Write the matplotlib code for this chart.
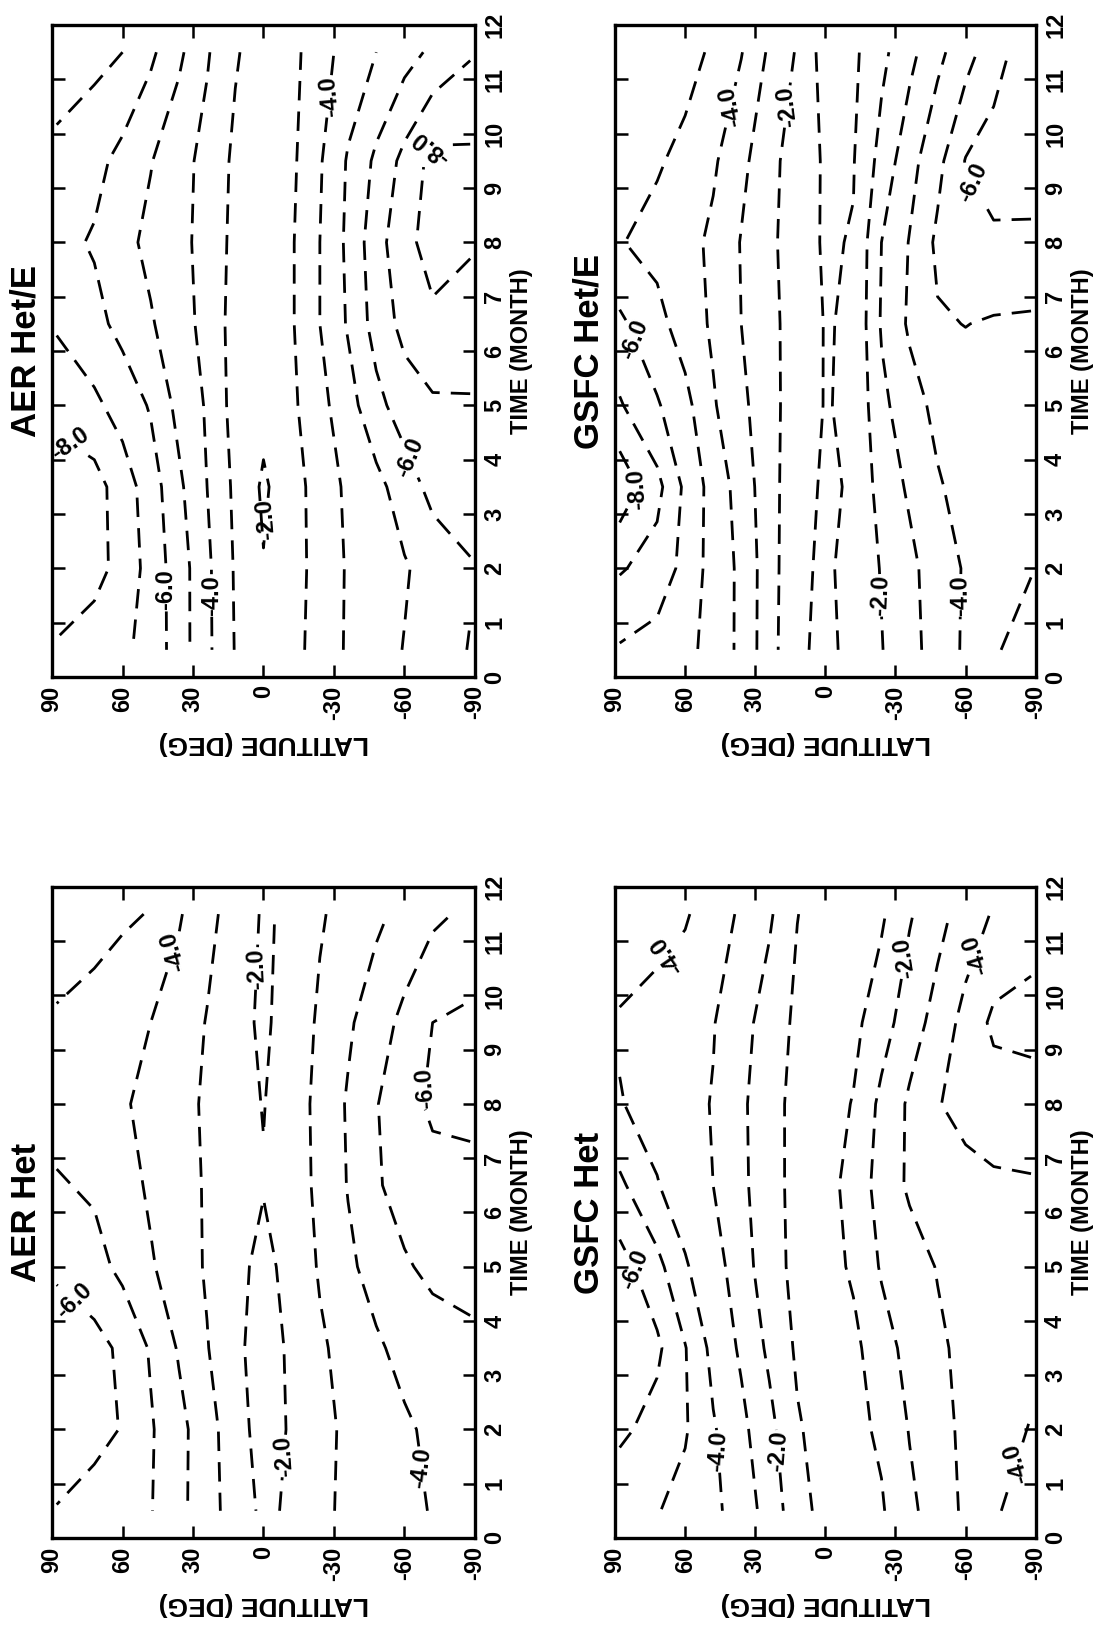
import numpy as np
import matplotlib
matplotlib.use('Agg')
import matplotlib.pyplot as plt

plt.rcParams['font.family'] = ['Liberation Sans', 'DejaVu Sans']
plt.rcParams['axes.unicode_minus'] = False
plt.rcParams['lines.scale_dashes'] = False

# grid of the model fields
lats = [88, 72, 60, 48, 36, 24, 12, 0, -12, -24, -36, -48, -60, -72, -88]
months = [0.5, 2, 3.5, 5, 6.5, 8, 9.5, 11.5]

# ozone change (%), one row per month, values from 88N to 88S
aer_het_e = [
    [-7.9, -7.55, -7.2, -6.64, -5.5, -4.22, -2.95, -2.4, -2.7, -3.35, -4.13, -4.58, -5.04, -5.5, -6.05],
    [-8.6, -8.3, -7.7, -6.6, -5.5, -4.2, -2.9, -2.05, -2.6, -3.35, -4.1, -4.6, -4.9, -5.4, -5.9],
    [-8.7, -8.4, -7.5, -6.5, -5.2, -4.0, -2.8, -1.85, -2.6, -3.4, -4.2, -4.7, -5.5, -6.3, -6.6],
    [-7.6, -7.2, -6.6, -5.9, -4.7, -3.9, -2.6, -2.3, -2.8, -3.7, -4.6, -5.7, -6.5, -6.85, -6.9],
    [-6.9, -6.3, -5.7, -5.1, -4.4, -3.7, -2.6, -2.4, -2.9, -4.0, -5.1, -6.4, -7.3, -7.8, -7.6],
    [-6.3, -5.9, -5.3, -4.75, -4.25, -3.7, -2.7, -2.3, -2.9, -4.0, -5.2, -6.6, -7.7, -8.4, -8.1],
    [-6.7, -6.3, -5.7, -5.05, -4.35, -3.7, -2.8, -2.3, -2.8, -3.9, -5.1, -6.2, -7.3, -8.3, -8.2],
    [-7.6, -7.3, -7.0, -6.2, -5.2, -4.1, -3.1, -2.5, -2.7, -3.6, -4.4, -5.0, -5.6, -6.2, -6.9],
]
aer_het = [
    [-5.95, -5.6, -5.35, -5.05, -4.27, -3.4, -2.55, -1.8, -2.15, -2.78, -3.2, -3.5, -3.78, -4.05, -4.3],
    [-6.6, -6.3, -5.95, -5.1, -4.3, -3.4, -2.4, -1.6, -2.1, -2.7, -3.2, -3.55, -3.85, -4.2, -4.5],
    [-6.7, -6.35, -5.8, -4.9, -3.9, -3.05, -2.2, -1.6, -2.15, -2.85, -3.35, -3.85, -4.3, -4.6, -4.8],
    [-5.8, -5.35, -4.75, -4.1, -3.5, -2.9, -2.25, -1.75, -2.3, -3.1, -3.8, -4.4, -4.9, -5.2, -5.3],
    [-5.1, -4.85, -4.4, -3.85, -3.4, -2.9, -2.35, -2.05, -2.55, -3.2, -4.05, -4.9, -5.35, -5.6, -5.65],
    [-4.6, -4.35, -4.1, -3.75, -3.35, -2.85, -2.3, -1.97, -2.45, -3.3, -4.1, -4.95, -5.6, -6.2, -6.3],
    [-4.85, -4.6, -4.35, -4.0, -3.55, -2.95, -2.3, -1.85, -2.4, -3.15, -3.85, -4.55, -5.25, -6.0, -6.2],
    [-5.7, -5.4, -5.15, -4.95, -4.1, -3.3, -2.55, -1.9, -2.15, -2.9, -3.35, -3.8, -4.3, -4.8, -5.2],
]
gsfc_het_e = [
    [-5.9, -5.6, -5.3, -4.63, -3.78, -2.38, -1.18, -0.75, -1.3, -1.96, -2.67, -3.43, -4.15, -4.9, -5.4],
    [-7.1, -6.6, -5.7, -4.6, -3.8, -2.4, -1.25, -0.8, -1.4, -2.05, -2.75, -3.5, -4.1, -4.7, -4.95],
    [-8.7, -7.3, -5.8, -4.6, -3.6, -2.35, -1.4, -0.85, -1.1, -2.4, -3.15, -3.9, -4.35, -4.6, -4.75],
    [-7.1, -6.1, -5.3, -4.1, -3.25, -2.3, -1.55, -0.95, -1.15, -2.75, -3.6, -4.25, -4.55, -4.7, -4.75],
    [-6.2, -5.3, -4.55, -3.85, -3.0, -2.25, -1.6, -0.95, -1.1, -3.1, -4.15, -4.9, -5.02, -4.9, -4.85],
    [-5.05, -4.7, -4.35, -3.8, -2.95, -2.25, -1.4, -0.9, -1.05, -3.0, -4.05, -5.2, -5.6, -5.85, -5.8],
    [-5.5, -5.1, -4.75, -4.15, -3.25, -2.35, -1.45, -0.9, -0.95, -2.35, -3.65, -4.7, -6.05, -6.4, -6.5],
    [-5.95, -5.7, -5.35, -4.85, -4.05, -2.85, -1.9, -0.55, -0.8, -1.75, -2.7, -3.75, -4.6, -5.6, -6.6],
]
gsfc_het = [
    [-5.3, -5.05, -4.67, -4.22, -3.55, -2.6, -1.4, -0.65, -0.6, -0.9, -1.77, -2.5, -3.17, -3.91, -4.35],
    [-6.2, -5.65, -5.1, -4.1, -3.25, -2.3, -1.1, -0.6, -0.75, -1.15, -2.05, -2.68, -3.2, -3.6, -4.05],
    [-6.8, -6.2, -5.05, -3.7, -2.85, -1.8, -0.85, -0.5, -0.75, -1.6, -2.3, -2.83, -3.25, -3.5, -3.75],
    [-6.4, -5.3, -4.1, -3.35, -2.55, -1.3, -0.8, -0.6, -1.15, -2.1, -2.55, -3.05, -3.45, -3.6, -3.7],
    [-5.2, -4.05, -3.5, -3.0, -2.25, -1.3, -0.75, -0.65, -1.35, -2.4, -3.15, -3.5, -3.7, -3.85, -3.9],
    [-4.05, -3.65, -3.3, -2.95, -2.2, -1.3, -0.75, -0.6, -1.05, -2.25, -3.15, -3.95, -4.3, -4.5, -4.6],
    [-3.9, -3.65, -3.4, -3.05, -2.35, -1.55, -0.8, -0.55, -0.75, -1.55, -2.55, -3.35, -4.35, -5.2, -5.3],
    [-4.6, -4.35, -4.1, -3.5, -2.85, -2.15, -1.02, -0.6, -0.6, -0.85, -1.9, -2.7, -3.4, -4.1, -4.6],
]

even_levels = [-10, -8, -6, -4, -2]
odd_levels = [-9, -7, -5, -3, -1]
lat_ticks = [90, 60, 30, 0, -30, -60, -90]
month_ticks = list(range(13))

# where the contour labels sit (latitude, month)
aer_het_e_labels = [(41, 1.6), (22, 1.5), (-3, 2.9), (79, 4.5), (-60, 4.0), (-25, 10.7), (-69, 9.8)]
aer_het_labels = [(80, 4.4), (38, 10.8), (4, 10.5), (-12, 1.5), (-68, 1.3), (-65, 8.3)]
gsfc_het_e_labels = [(78, 3.4), (82, 6.2), (41, 10.5), (16, 10.5), (-58, 9.0), (-22, 1.5), (-62, 1.5)]
gsfc_het_labels = [(66, 10.7), (78, 5.0), (44, 1.6), (19.5, 1.6), (-33, 10.7), (-61, 10.8), (-72, 1.5)]

fig = plt.figure(figsize=(11.07, 16.38), dpi=100)

panels = [
    ([0.047, 0.5867, 0.382, 0.398], 'AER Het/E', aer_het_e, aer_het_e_labels),
    ([0.5556, 0.5867, 0.380, 0.398], 'GSFC Het/E', gsfc_het_e, gsfc_het_e_labels),
    ([0.047, 0.0611, 0.382, 0.3974], 'AER Het', aer_het, aer_het_labels),
    ([0.5556, 0.0611, 0.380, 0.3974], 'GSFC Het', gsfc_het, gsfc_het_labels),
]

lw = 2.0
dash = [(0, (14, 8))]

for rect, title, field, label_pos in panels:
    ax = fig.add_axes(rect)
    z = np.array(field)
    ax.contour(lats, months, z, levels=odd_levels, colors='black',
               linewidths=lw, linestyles=dash)
    cs = ax.contour(lats, months, z, levels=even_levels, colors='black',
                    linewidths=lw, linestyles=dash)
    texts = ax.clabel(cs, manual=label_pos, inline=True, inline_spacing=3,
                      fmt='%.1f', fontsize=17)
    for t in texts:
        t.set_fontweight('bold')
        rot = t.get_rotation() % 360
        if 200 < rot < 340:
            t.set_rotation(rot - 180)

    ax.set_xlim(90, -90)
    ax.set_ylim(0, 12)
    ax.set_xticks(lat_ticks)
    ax.set_xticklabels([str(v) for v in lat_ticks], rotation=90,
                       fontsize=17, fontweight='bold')
    ax.set_yticks(month_ticks)
    ax.set_yticklabels([str(v) for v in month_ticks], rotation=90,
                       fontsize=17, fontweight='bold')
    ax.tick_params(direction='in', length=9, width=1.8, top=True, bottom=True,
                   left=True, right=True, labelleft=False, labelright=True, pad=6)
    for t in ax.get_yticklabels():
        t.set_verticalalignment('center')
        t.set_horizontalalignment('left')
    for s in ax.spines.values():
        s.set_linewidth(2.4)

    ax.set_xlabel('LATITUDE (DEG)', rotation=180, fontsize=19,
                  fontweight='bold', labelpad=8)
    ax.yaxis.set_label_position('right')
    ax.set_ylabel('TIME (MONTH)', rotation=90, fontsize=17,
                  fontweight='bold', labelpad=3)
    ax.text(-0.022, 0.5, title, transform=ax.transAxes, rotation=90,
            ha='right', va='center', fontsize=25, fontweight='bold')

fig.savefig('out.png', dpi=100, facecolor='white')
